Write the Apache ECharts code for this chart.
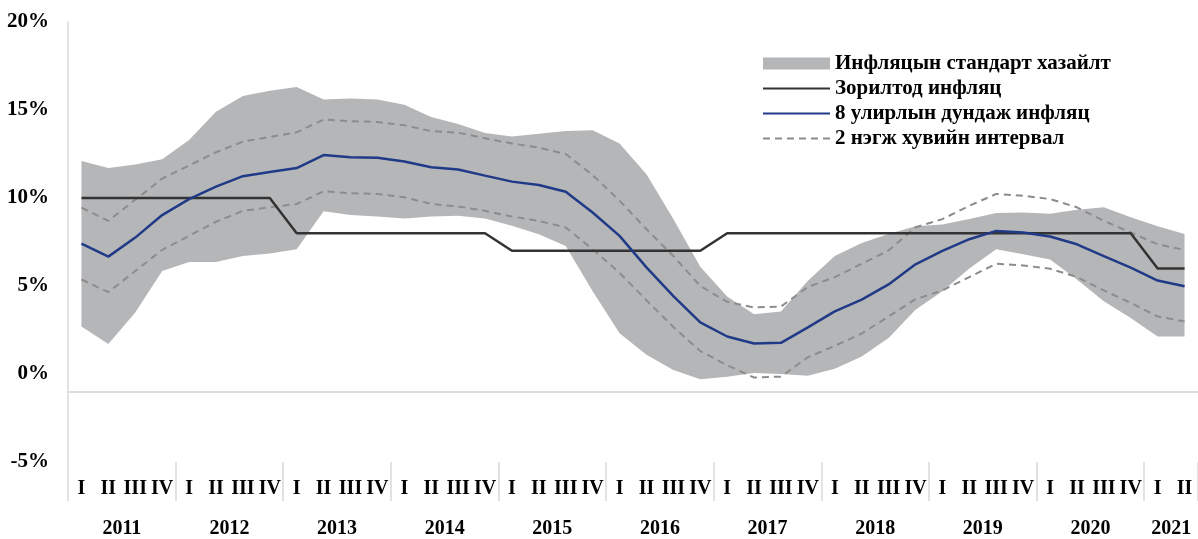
<!DOCTYPE html>
<html>
<head>
<meta charset="utf-8">
<script src="https://cdn.jsdelivr.net/npm/echarts@6/dist/echarts.min.js"></script>
<style>
  html, body { margin: 0; padding: 0; background: #fff; }
  #chart { width: 1198px; height: 539px; }
</style>
</head>
<body>
<div id="chart"></div>
<script>
// Inflation: target, 8-quarter mean, 2-unit interval and std band (2011 Q1 - 2021 Q2)
const years = ['2011', '2012', '2013', '2014', '2015', '2016', '2017', '2018', '2019', '2020', '2021']
const quarters = ['I', 'II', 'III', 'IV']
const quartersPerYear = [4, 4, 4, 4, 4, 4, 4, 4, 4, 4, 2]

const targetInflation = [10, 10, 10, 10, 10, 10, 10, 10, 8, 8, 8, 8, 8, 8, 8, 8,
  7, 7, 7, 7, 7, 7, 7, 7, 8, 8, 8, 8, 8, 8, 8, 8, 8, 8, 8, 8, 8, 8, 8, 8, 6, 6]
const meanInflation = [7.41, 6.67, 7.75, 9.03, 9.94, 10.65, 11.24, 11.48, 11.7, 12.44,
  12.32, 12.29, 12.07, 11.75, 11.62, 11.27, 10.93, 10.74, 10.36, 9.18,
  7.85, 6.06, 4.42, 2.93, 2.13, 1.73, 1.77, 2.65, 3.56, 4.23,
  5.09, 6.23, 6.99, 7.66, 8.13, 8.04, 7.81, 7.37, 6.7, 6.04, 5.31, 4.99]
const intervalHigh = [9.45, 8.7, 9.9, 11.1, 11.85, 12.6, 13.2, 13.47, 13.73, 14.46,
  14.36, 14.32, 14.13, 13.8, 13.71, 13.39, 13.1, 12.86, 12.5, 11.3,
  9.85, 8.23, 6.7, 5.0, 4.1, 3.78, 3.83, 4.95, 5.5, 6.26,
  7.02, 8.34, 8.8, 9.56, 10.23, 10.13, 9.94, 9.47, 8.7, 8.04, 7.37, 7.05]
const intervalLow = [5.37, 4.65, 5.85, 7.05, 7.85, 8.65, 9.27, 9.47, 9.66, 10.38,
  10.27, 10.23, 10.04, 9.66, 9.52, 9.27, 8.95, 8.7, 8.32, 7.09,
  5.75, 4.19, 2.67, 1.3, 0.5, -0.2, -0.15, 0.95, 1.6, 2.3,
  3.27, 4.25, 4.75, 5.51, 6.26, 6.17, 5.98, 5.51, 4.75, 4.04, 3.27, 2.99]
const stdHigh = [12.1, 11.7, 11.9, 12.2, 13.3, 14.9, 15.8, 16.1, 16.3, 15.6,
  15.65, 15.6, 15.3, 14.6, 14.2, 13.7, 13.5, 13.65, 13.8, 13.85,
  13.1, 11.35, 8.8, 6.1, 4.4, 3.4, 3.55, 5.3, 6.7, 7.45,
  7.95, 8.4, 8.5, 8.8, 9.15, 9.18, 9.1, 9.33, 9.47, 8.9, 8.4, 7.95]
const stdLow = [2.7, 1.7, 3.5, 5.85, 6.37, 6.37, 6.7, 6.85, 7.09, 9.25,
  9.03, 8.95, 8.84, 8.95, 8.99, 8.84, 8.42, 7.94, 7.27, 4.7,
  2.32, 1.09, 0.23, -0.3, -0.15, 0.05, 0.0, -0.1, 0.3, 1.0,
  2.05, 3.65, 4.7, 6.0, 7.09, 6.8, 6.51, 5.37, 4.13, 3.18, 2.13, 2.13]
const yTicks = { min: -5, max: 20, step: 5 }
const axisRefLine = -1

// category list like "2011 I"
const categories = []
years.forEach((y, i) => {
  quarters.slice(0, quartersPerYear[i]).forEach(q => categories.push(y + ' ' + q))
})
const stdWidth = stdHigh.map((v, i) => +(v - stdLow[i]).toFixed(2))

const font = '"Liberation Serif", "Times New Roman", serif'
const names = {
  band: 'Инфляцын стандарт хазайлт',
  target: 'Зорилтод инфляц',
  mean: '8 улирлын дундаж инфляц',
  interval: '2 нэгж хувийн интервал'
}
const bandColor = '#b5b6b8'

const chart = echarts.init(document.getElementById('chart'))

const option = {
  animation: false,
  grid: { left: 68, right: 0, top: 22, bottom: 76 },
  legend: {
    orient: 'vertical',
    left: 757,
    top: 48,
    itemWidth: 67,
    itemHeight: 12,
    itemGap: 4,
    itemStyle: { opacity: 0 },
    textStyle: { fontFamily: font, fontWeight: 'bold', fontSize: 21, color: '#000', lineHeight: 21 },
    data: [
      { name: names.band, icon: 'rect', itemStyle: { opacity: 1, color: bandColor } },
      names.target,
      names.mean,
      names.interval
    ]
  },
  xAxis: [
    {
      type: 'category',
      data: categories,
      boundaryGap: true,
      axisLine: { show: false, onZero: false },
      axisTick: {
        show: true,
        length: 39,
        interval: (i) => {
          // year separators
          let start = 0
          for (let k = 0; k < quartersPerYear.length; k++) {
            if (i === start) return true
            start += quartersPerYear[k]
          }
          return false
        },
        lineStyle: { color: '#d9d9d9', width: 1.5 }
      },
      axisLabel: {
        interval: 0,
        margin: 17,
        fontFamily: font,
        fontWeight: 'bold',
        fontSize: 20,
        color: '#000',
        formatter: (v) => v.split(' ')[1]
      }
    },
    {
      type: 'category',
      data: categories,
      boundaryGap: true,
      position: 'bottom',
      axisLine: { show: false, onZero: false },
      axisTick: { show: false },
      axisLabel: {
        interval: 0,
        margin: 57,
        fontFamily: font,
        fontWeight: 'bold',
        fontSize: 20,
        color: '#000',
        padding: [0, 0, 0, 27],
        formatter: (v) => {
          const [y, q] = v.split(' ')
          const n = quartersPerYear[years.indexOf(y)]
          return quarters.indexOf(q) === Math.floor((n - 1) / 2) ? y : ''
        }
      }
    }
  ],
  yAxis: {
    type: 'value',
    min: yTicks.min,
    max: yTicks.max,
    interval: yTicks.step,
    axisLine: { show: true, lineStyle: { color: '#d9d9d9', width: 1.5 } },
    axisTick: { show: false },
    splitLine: { show: false },
    axisLabel: {
      margin: 19,
      fontFamily: font,
      fontWeight: 'bold',
      fontSize: 21,
      color: '#000',
      formatter: '{value}%'
    }
  },
  series: [
    {
      name: 'base',
      type: 'line',
      data: stdLow,
      stack: 'std',
      stackStrategy: 'all',
      symbol: 'none',
      silent: true,
      lineStyle: { opacity: 0 }
    },
    {
      name: names.band,
      type: 'line',
      data: stdWidth,
      stack: 'std',
      stackStrategy: 'all',
      symbol: 'none',
      silent: true,
      color: bandColor,
      lineStyle: { opacity: 0, width: 0 },
      areaStyle: { color: bandColor, opacity: 1 },
      markLine: {
        silent: true,
        symbol: 'none',
        label: { show: false },
        lineStyle: { color: '#dedede', width: 2, type: 'solid' },
        data: [{ yAxis: axisRefLine }]
      }
    },
    {
      name: names.interval,
      type: 'line',
      data: intervalHigh,
      symbol: 'none',
      color: '#8c8c8c',
      lineStyle: { color: '#8c8c8c', width: 2, type: [7, 5] }
    },
    {
      name: names.interval,
      type: 'line',
      data: intervalLow,
      symbol: 'none',
      color: '#8c8c8c',
      lineStyle: { color: '#8c8c8c', width: 2, type: [7, 5] }
    },
    {
      name: names.target,
      type: 'line',
      data: targetInflation,
      symbol: 'none',
      color: '#333333',
      lineStyle: { color: '#333333', width: 2.5 }
    },
    {
      name: names.mean,
      type: 'line',
      data: meanInflation,
      symbol: 'none',
      color: '#203a87',
      lineStyle: { color: '#203a87', width: 2.5 }
    }
  ]
}

chart.setOption(option)
</script>
</body>
</html>
